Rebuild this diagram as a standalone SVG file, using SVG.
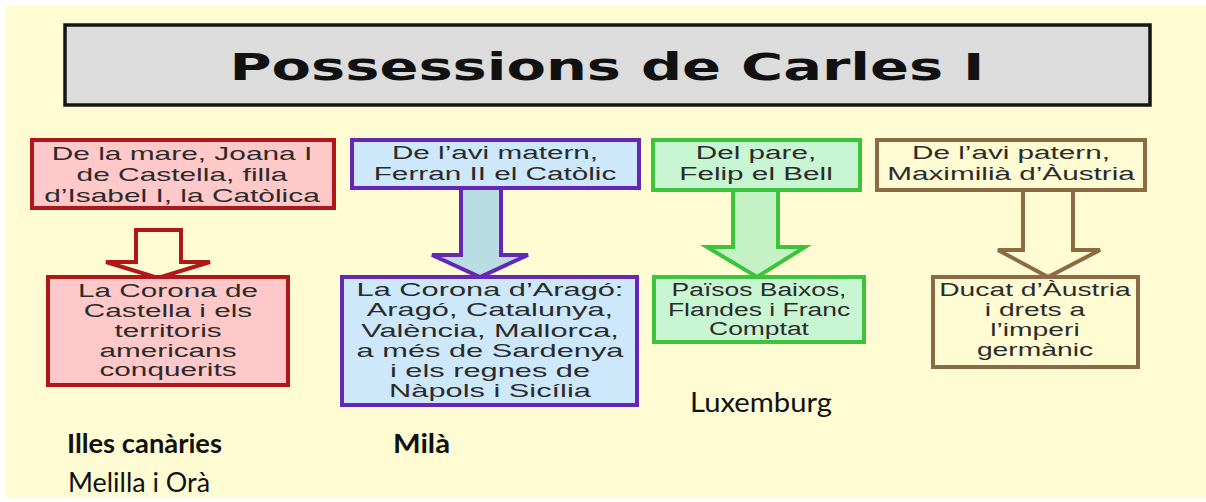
<svg xmlns="http://www.w3.org/2000/svg" width="1206" height="502" viewBox="0 0 1206 502">
<style>
.t{font-family:"Liberation Sans",Arial,sans-serif;font-size:18px;fill:#2b2b2b;text-anchor:middle}
.red{fill:#FFC9C9;stroke:#B0161A;stroke-width:4}
.blue{fill:#CDE8FB;stroke:#6628B4;stroke-width:4}
.green{fill:#C8F5D2;stroke:#3CC53C;stroke-width:4}
.brown{fill:#FFFCD3;stroke:#8C6A44;stroke-width:4}
.cal{font-family:Lato,"Open Sans",sans-serif;font-size:26px;fill:#111}
</style>
<rect x="0" y="0" width="1206" height="502" fill="#ffffff"/>
<rect x="6" y="6" width="1200" height="492" fill="#FFFCD3"/>
<g id="title">
<rect x="65" y="25" width="1085" height="80" fill="#DCDCDC" stroke="#151515" stroke-width="3.5"/>
<text x="607" y="80" font-family="DejaVu Sans,sans-serif" font-weight="bold" font-size="37" fill="#111" text-anchor="middle" textLength="755" lengthAdjust="spacingAndGlyphs">Possessions de Carles I</text>
</g>
<g id="connectors">
<path class="red" style="fill:#FFFCD3" d="M136,230 H181 V262 H210 L158,278 L106,262 H136 Z"/>
<path class="blue" style="fill:#B9DDE3" d="M461,188 H501 V255 H528 L480,277 L432,255 H461 Z"/>
<path class="green" style="fill:#C4F2C4" d="M733,190 H778 V247 H805 L757,277 L707,247 H733 Z"/>
<path class="brown" d="M1023,190 H1073 V250 H1100 L1048,277 L998,250 H1023 Z"/>
</g>
<g id="n1">
<rect class="red" x="32" y="140" width="302" height="68"/>
<text class="t" transform="translate(182,0) scale(1.66,1)"><tspan x="0" y="160">De la mare, Joana I</tspan><tspan x="0" y="181">de Castella, filla</tspan><tspan x="0" y="202">d’Isabel I, la Catòlica</tspan></text>
</g>
<g id="n2">
<rect class="red" x="48" y="277" width="240" height="108"/>
<text class="t" transform="translate(168,0) scale(1.65,1)"><tspan x="0" y="297">La Corona de</tspan><tspan x="0" y="317">Castella i els</tspan><tspan x="0" y="337">territoris</tspan><tspan x="0" y="357">americans</tspan><tspan x="0" y="376">conquerits</tspan></text>
</g>
<g id="n3">
<rect class="blue" x="352" y="140" width="287" height="48"/>
<text class="t" transform="translate(495,0) scale(1.65,1)"><tspan x="0" y="159">De l’avi matern,</tspan><tspan x="0" y="180">Ferran II el Catòlic</tspan></text>
</g>
<g id="n4">
<rect class="blue" x="342" y="277" width="295" height="128"/>
<text class="t" transform="translate(490,0) scale(1.71,1)"><tspan x="0" y="296">La Corona d’Aragó:</tspan><tspan x="0" y="316">Aragó, Catalunya,</tspan><tspan x="0" y="337">València, Mallorca,</tspan><tspan x="0" y="357">a més de Sardenya</tspan><tspan x="0" y="377">i els regnes de</tspan><tspan x="0" y="397">Nàpols i Sicília</tspan></text>
</g>
<g id="n5">
<rect class="green" x="653" y="140" width="207" height="50"/>
<text class="t" transform="translate(756,0) scale(1.65,1)"><tspan x="0" y="159">Del pare,</tspan><tspan x="0" y="180">Felip el Bell</tspan></text>
</g>
<g id="n6">
<rect class="green" x="654" y="277" width="210" height="65"/>
<text class="t" transform="translate(759,0) scale(1.47,1)"><tspan x="0" y="296">Països Baixos,</tspan><tspan x="0" y="316">Flandes i Franc</tspan><tspan x="0" y="335">Comptat</tspan></text>
</g>
<g id="n7">
<rect class="brown" x="877" y="140" width="268" height="50"/>
<text class="t" transform="translate(1011,0) scale(1.65,1)"><tspan x="0" y="159">De l’avi patern,</tspan><tspan x="0" y="180">Maximilià d’Àustria</tspan></text>
</g>
<g id="n8">
<rect class="brown" x="933" y="277" width="205" height="90"/>
<text class="t" transform="translate(1035,0) scale(1.57,1)"><tspan x="0" y="296">Ducat d’Àustria</tspan><tspan x="0" y="316">i drets a</tspan><tspan x="0" y="336">l’imperi</tspan><tspan x="0" y="356">germànic</tspan></text>
</g>
<g id="labels">
<text class="cal" x="690" y="412" textLength="142" lengthAdjust="spacingAndGlyphs">Luxemburg</text>
<text class="cal" x="67" y="453" font-weight="bold" textLength="155" lengthAdjust="spacingAndGlyphs">Illes canàries</text>
<text class="cal" x="393" y="453" font-weight="bold" textLength="57" lengthAdjust="spacingAndGlyphs">Milà</text>
<text class="cal" x="68" y="492" textLength="142" lengthAdjust="spacingAndGlyphs">Melilla i Orà</text>
</g>
</svg>
